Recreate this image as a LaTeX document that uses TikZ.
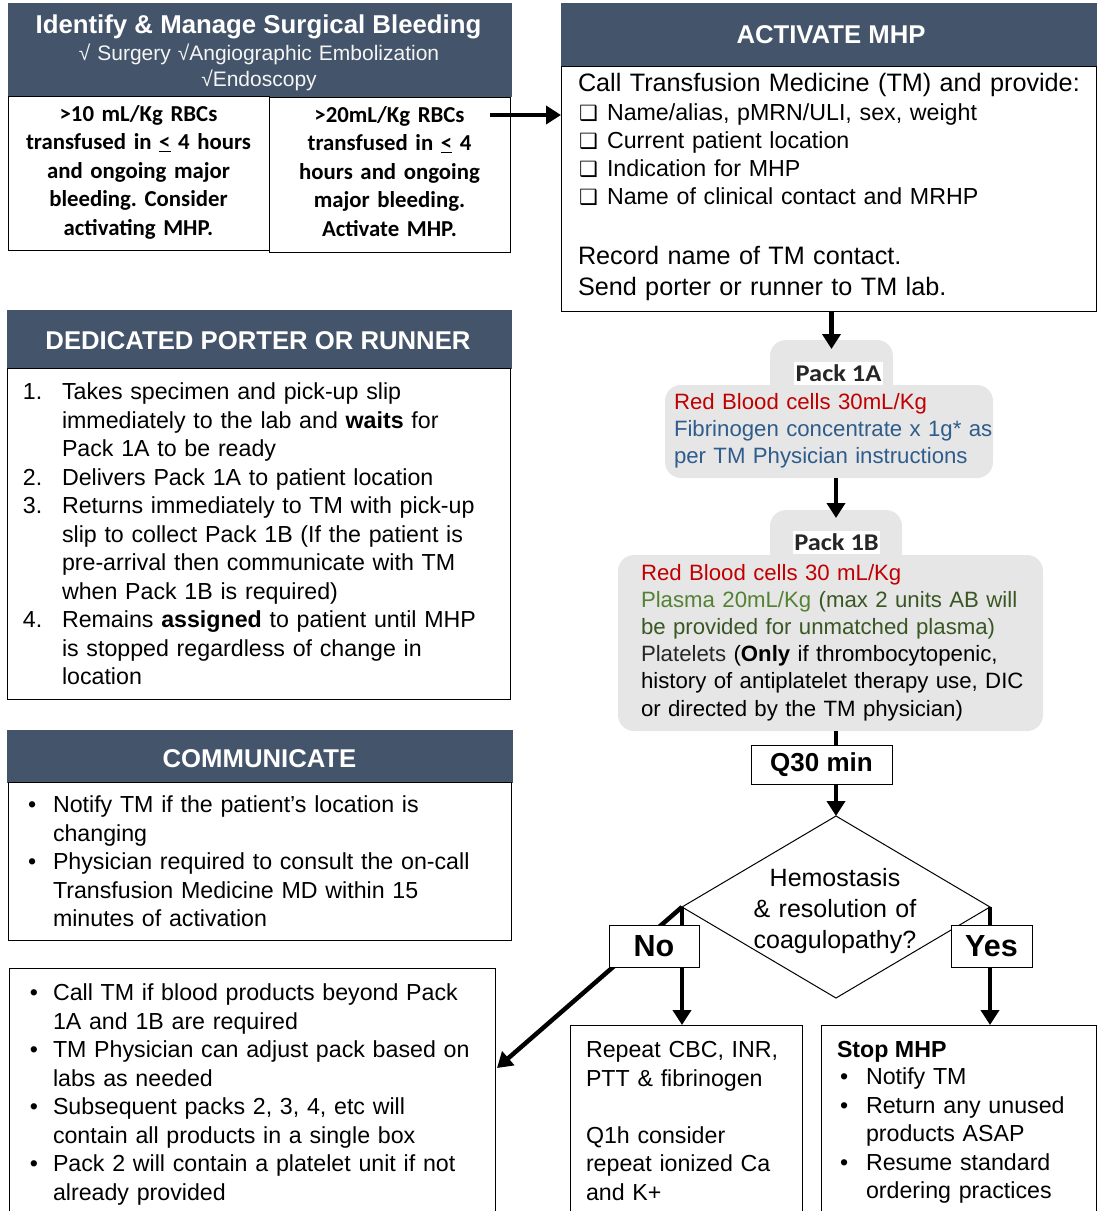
\documentclass[tikz,border=0pt]{standalone}
\usepackage{fontspec}
\usepackage{graphicx}
\setmainfont{Liberation Sans}
\newfontfamily\calfont{Carlito}
\newfontfamily\djvfont{DejaVu Sans}
\usetikzlibrary{arrows.meta,shapes.geometric}
\frenchspacing
\newcommand{\fsz}[2]{\fontsize{#1}{#2}\selectfont}
\newcommand{\chk}{\hspace*{1pt}\makebox[28pt][l]{\djvfont\fsz{21}{21}❑}}
\definecolor{hdr}{RGB}{68,84,106}
\definecolor{subw}{RGB}{245,245,245}
\definecolor{packgray}{RGB}{231,230,230}
\definecolor{rbc}{RGB}{192,0,0}
\definecolor{fib}{RGB}{46,92,140}
\definecolor{plasmaA}{RGB}{84,130,53}
\definecolor{plasmaB}{RGB}{56,87,35}
\definecolor{packlbl}{RGB}{38,38,38}
\begin{document}
\begin{tikzpicture}[x=1pt,y=-1pt,
  every node/.style={inner sep=0pt,outer sep=0pt},
  sz/.style 2 args={minimum width=#1pt,minimum height=#2pt},
  box/.style={draw=black,line width=1pt,fill=white,anchor=north west},
  hbox/.style={fill=hdr,draw=hdr,line width=1pt,anchor=north west},
  htext/.style={text=white,font=\bfseries\fsz{25.7}{28},anchor=base},
  body/.style={anchor=base west,align=left,text width=#1,font=\fsz{23.2}{28.5}},
  body/.default=440pt,
  pk/.style={fill=packgray,rounded corners=16pt,anchor=north west},
  pklbl/.style={fill=white,text=packlbl,font=\calfont\bfseries\fsz{24}{24}},
  pktext/.style={anchor=base west,align=left,text width=#1,font=\fsz{22.2}{27.2}},
  arr/.style={line width=4.5pt,-{Triangle[length=15pt,width=18pt]}},
  barline/.style={line width=4.5pt},
  bul/.style={anchor=base west,font=\fsz{23.2}{28.5}},
  yn/.style={draw=black,line width=1pt,fill=white,font=\bfseries\fsz{30.5}{30}}
]
\clip (0,0) rectangle (1097,1211);

% ---------- Identify & manage ----------
\node[hbox,sz={503}{93}] (h1) at (8,3) {};
\node[font=\bfseries\fsz{25.8}{30},text=white,anchor=base] (h1t) at (258.5,33) {Identify \& Manage Surgical Bleeding};
\node[font=\fsz{21}{26},text=subw,anchor=base,align=center,text width=480pt] (h1s) at (259,60) {√ Surgery √Angiographic Embolization\\√Endoscopy};
\node[box,sz={241}{155}] (b2) at (269,97) {};
\node[box,sz={261}{154}] (b1) at (8,96) {};
\node[font=\calfont\bfseries\fsz{22.8}{28.5},anchor=base,align=center,text width=258pt] (b1t) at (138.5,121) {>10 mL/Kg RBCs\\transfused in \underline{<} 4 hours\\and ongoing major\\bleeding. Consider\\activating MHP.};
\node[font=\calfont\bfseries\fsz{22.8}{28.5},anchor=base,align=center,text width=238pt] (b2t) at (389.5,122) {>20mL/Kg RBCs\\transfused in \underline{<} 4\\hours and ongoing\\major bleeding.\\Activate MHP.};

% ---------- Activate MHP ----------
\node[hbox,sz={537}{63}] (acth) at (561,3) {};
\node[htext] (actht) at (831,43.5) {ACTIVATE MHP};
\node[box,sz={535}{245}] (actb) at (561,66) {};
\node[body=515pt,font=\fsz{25.2}{29}] (actt0) at (578,91) {Call Transfusion Medicine (TM) and provide:};
\node[body=515pt,font=\fsz{23.2}{28.2}] (actt1) at (578,120) {\chk Name/alias, pMRN/ULI, sex, weight\\\chk Current patient location\\\chk Indication for MHP\\\chk Name of clinical contact and MRHP};
\node[body=515pt,font=\fsz{25.2}{31}] (actt2) at (578,264) {Record name of TM contact.\\Send porter or runner to TM lab.};
\coordinate (a0) at (490,115);
\draw[arr] (a0) -- (a0 -| actb.west);

% ---------- Porter ----------
\node[hbox,sz={504}{58}] (ph) at (7,310) {};
\node[htext] (pht) at (258,349) {DEDICATED PORTER OR RUNNER};
\node[box,sz={503}{331}] (pb) at (7,368) {};
\node[bul] (n1) at (23,399.5) {1.};
\node[body] (i1) at (62,399.5) {Takes specimen and pick-up slip\\immediately to the lab and \textbf{waits} for\\Pack 1A to be ready};
\node[bul] (n2) at (23,485) {2.};
\node[body] (i2) at (62,485) {Delivers Pack 1A to patient location};
\node[bul] (n3) at (23,513.5) {3.};
\node[body] (i3) at (62,513.5) {Returns immediately to TM with pick-up\\slip to collect Pack 1B (If the patient is\\pre-arrival then communicate with TM\\when Pack 1B is required)};
\node[bul] (n4) at (23,627.5) {4.};
\node[body] (i4) at (62,627.5) {Remains \textbf{assigned} to patient until MHP\\is stopped regardless of change in\\location};

% ---------- Communicate ----------
\node[hbox,sz={505}{52}] (ch) at (7,730) {};
\node[htext] (cht) at (259.5,767) {COMMUNICATE};
\node[box,sz={503}{158}] (cb) at (8,782) {};
\node[bul] (c1b) at (28,812.5) {•};
\node[body] (c1) at (53,812.5) {Notify TM if the patient’s location is\\changing};
\node[bul] (c2b) at (28,869.5) {•};
\node[body] (c2) at (53,869.5) {Physician required to consult the on-call\\Transfusion Medicine MD within 15\\minutes of activation};

% ---------- Pack 1A ----------
\node[pk,sz={123}{60}] (p1tab) at (770,340) {};
\node[pk,sz={328}{93}] (p1) at (665,385) {};
\node[pklbl,sz={89}{23}] (p1lbl) at (838.5,373.5) {\scalebox{1.1}[1]{Pack 1A}};
\node[pktext=320pt] (p1t) at (674,409) {\textcolor{rbc}{Red Blood cells 30mL/Kg}\\\textcolor{fib}{Fibrinogen concentrate x 1g* as}\\\textcolor{fib}{per TM Physician instructions}};

% ---------- Pack 1B ----------
\node[pk,sz={132}{60}] (p2tab) at (770,510) {};
\node[pk,sz={425}{176}] (p2) at (618,555) {};
\node[pklbl,sz={87}{23}] (p2lbl) at (836.5,542.5) {\scalebox{1.1}[1]{Pack 1B}};
\node[pktext=400pt] (p2t) at (641,580) {\textcolor{rbc}{Red Blood cells 30 mL/Kg}\\\textcolor{plasmaA}{Plasma 20mL/Kg} \textcolor{plasmaB}{(max 2 units AB will}\\\textcolor{plasmaB}{be provided for unmatched plasma)}\\\textcolor{packlbl}{Platelets} (\textbf{Only} if thrombocytopenic,\\history of antiplatelet therapy use, DIC\\or directed by the TM physician)};

% ---------- Q30 and decision ----------
\node[draw=black,line width=1pt,fill=white,sz={141}{39},font=\bfseries\fsz{26}{26}] (q) at (821.5,764.5) {Q30 min};
\node[diamond,draw=black,line width=1pt,fill=white,sz={308}{182}] (dia) at (836,907) {};
\node[font=\fsz{25}{31},anchor=base,align=center,text width=220pt] (diat) at (835,886.5) {Hemostasis\\\& resolution of\\coagulopathy?};

% ---------- bottom boxes ----------
\node[box,sz={486}{250}] (bl) at (9,968) {};
\node[bul] (l1b) at (30,1000.5) {•};
\node[body=440pt] (l1) at (53,1000.5) {Call TM if blood products beyond Pack\\1A and 1B are required};
\node[bul] (l2b) at (30,1057.5) {•};
\node[body=440pt] (l2) at (53,1057.5) {TM Physician can adjust pack based on\\labs as needed};
\node[bul] (l3b) at (30,1114.5) {•};
\node[body=440pt] (l3) at (53,1114.5) {Subsequent packs 2, 3, 4, etc will\\contain all products in a single box};
\node[bul] (l4b) at (30,1171.5) {•};
\node[body=440pt] (l4) at (53,1171.5) {Pack 2 will contain a platelet unit if not\\already provided};

\node[box,sz={232}{190}] (rp) at (570,1025) {};
\node[body=215pt] (rpt) at (586,1057.5) {Repeat CBC, INR,\\PTT \& fibrinogen\\[28.5pt]Q1h consider\\repeat ionized Ca\\and K+};

\node[box,sz={275}{190}] (st) at (821,1025) {};
\node[bul,font=\bfseries\fsz{23.2}{28.5}] (stt) at (837,1057.5) {Stop MHP};
\node[bul] (s1b) at (840,1084.5) {•};
\node[body=225pt] (s1) at (866,1084.5) {Notify TM};
\node[bul] (s2b) at (840,1113) {•};
\node[body=225pt] (s2) at (866,1113) {Return any unused\\products ASAP};
\node[bul] (s3b) at (840,1170) {•};
\node[body=225pt] (s3) at (866,1170) {Resume standard\\ordering practices};

% ---------- connectors ----------
\draw[arr] (p1tab.north |- actb.south) -- ([yshift=-9pt]p1tab.north);
\draw[arr] (p2tab.north |- p1.south) -- ([yshift=-8pt]p2tab.north);
\draw[barline] (p2.south -| dia.north) -- (q.north -| dia.north);
\draw[arr] (q.south -| dia.north) -- (dia.north);
\coordinate (dtip) at (497,1068);
\draw[arr] (dia.west) -- (dtip);
\draw[arr] (dia.west) -- (dia.west |- rp.north);
\draw[arr] (dia.east) -- (dia.east |- st.north);
\node[yn,sz={90}{42}] (no) at (654,946) {No};
\node[yn,sz={81}{42}] (yes) at (991.5,946) {Yes};
\end{tikzpicture}
\end{document}
